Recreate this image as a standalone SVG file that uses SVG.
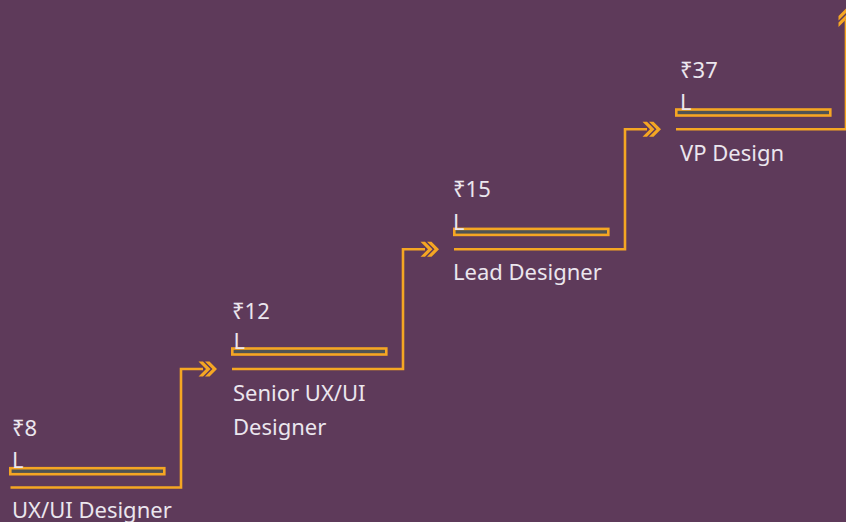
<svg xmlns="http://www.w3.org/2000/svg" xmlns:xlink="http://www.w3.org/1999/xlink" width="846" height="522" viewBox="0 0 846 522">
<defs>
<style>
.bg{fill:#5e3a5a}
.bar{fill:#4f5353;stroke:#f5a623;stroke-width:2.6}
.conn{fill:none;stroke:#f5a623;stroke-width:2.6}
.chev{fill:#f5a623}
.t{font-family:"Noto Sans","DejaVu Sans",sans-serif;font-size:22px;fill:#ebe6ee}
</style>
<path id="chevR" d="M-15,-7.5 L-10.5,-7.5 L-3,0 L-10.5,7.5 L-15,7.5 L-7.5,0 Z M-8.5,-7.5 L-4,-7.5 L3.5,0 L-4,7.5 L-8.5,7.5 L-1,0 Z"/>
</defs>
<rect class="bg" x="0" y="0" width="846" height="522"/>
<g id="connectors">
<path class="conn" d="M10.5,487.5 H181 V369 H203"/>
<path class="conn" d="M232,369 H403 V249.3 H425"/>
<path class="conn" d="M454,249.3 H625 V129.3 H647"/>
<path class="conn" d="M676,129.3 H846 V20"/>
<use xlink:href="#chevR" class="chev" transform="translate(213.5,369)"/>
<use xlink:href="#chevR" class="chev" transform="translate(435.5,249.3)"/>
<use xlink:href="#chevR" class="chev" transform="translate(657.5,129.3)"/>
<use xlink:href="#chevR" class="chev" transform="translate(846,12) rotate(-90)"/>
</g>
<g id="step1">
<text class="t" x="12" y="436">₹8</text>
<rect class="bar" x="10.3" y="468.2" width="154" height="6"/>
<text class="t" x="12" y="467.5">L</text>
<text class="t" x="12" y="518">UX/UI Designer</text>
</g>
<g id="step2">
<text class="t" x="232" y="319">₹12</text>
<rect class="bar" x="232.3" y="348.5" width="154" height="6"/>
<text class="t" x="233.5" y="349">L</text>
<text class="t" x="233" y="401">Senior UX/UI</text>
<text class="t" x="233" y="434.5">Designer</text>
</g>
<g id="step3">
<text class="t" x="453" y="196.5">₹15</text>
<rect class="bar" x="454.3" y="228.9" width="154" height="6"/>
<text class="t" x="453" y="229.5">L</text>
<text class="t" x="453" y="280">Lead Designer</text>
</g>
<g id="step4">
<text class="t" x="680" y="78">₹37</text>
<rect class="bar" x="676.3" y="109.5" width="154" height="6"/>
<text class="t" x="680" y="110">L</text>
<text class="t" x="680" y="160.5">VP Design</text>
</g>
</svg>
